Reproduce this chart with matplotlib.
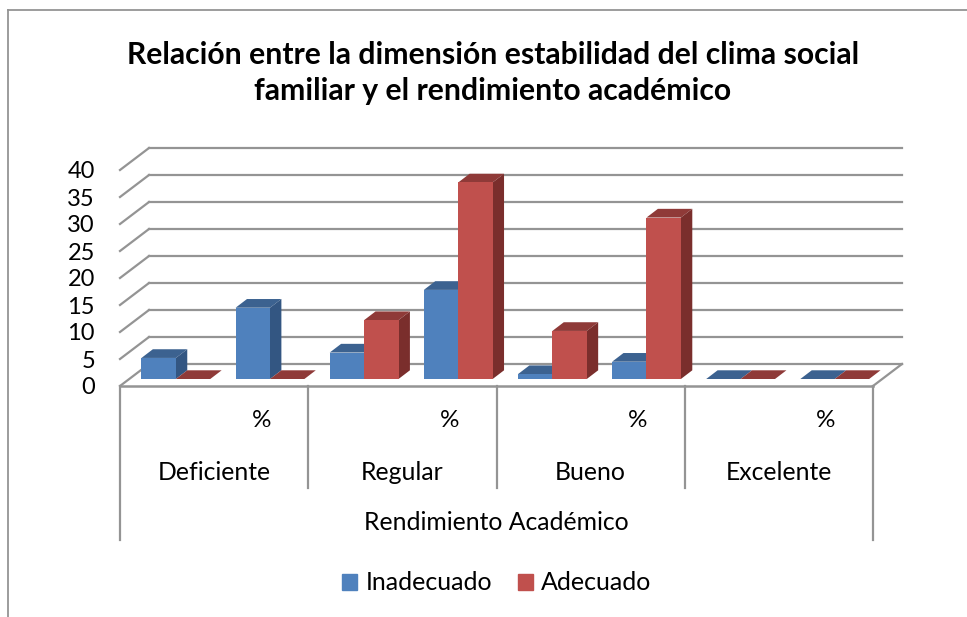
import matplotlib.pyplot as plt
from matplotlib.patches import Patch
from matplotlib.lines import Line2D

plt.rcParams['font.family'] = ['Lato', 'DejaVu Sans']

title = "Relación entre la dimensión estabilidad del clima social\nfamiliar y el rendimiento académico"
groups = ["Deficiente", "Regular", "Bueno", "Excelente"]
outer_label = "Rendimiento Académico"
sub_label = "%"
series_names = ["Inadecuado", "Adecuado"]
inadecuado = [3.9, 13.2, 4.9, 16.5, 0.9, 3.2, 0, 0]
adecuado = [0, 0, 10.9, 36.4, 8.9, 29.9, 0, 0]
yticks = [0, 5, 10, 15, 20, 25, 30, 35, 40]

W, H = 967, 617
L, R, BASE, TOP = 120, 873, 386, 170
# data units per pixel
ux = 8 / (R - L)
uy = 40 / (BASE - TOP)
# depth of the 3d box and of the bars, in data units
wall_dx, wall_dy = 29 * ux, 22 * uy
bar_dx, bar_dy = 11.4 * ux, 8.7 * uy
off_x, off_y = 8.8 * ux, 7 * uy
bar_w = 34.4 * ux

GRID = '#949494'
colors = {'front': ['#4F81BD', '#C0504D'],
          'top': ['#3C6290', '#8F3A38'],
          'side': ['#335682', '#7A2E2C']}

fig = plt.figure(figsize=(W / 100, H / 100), dpi=100)
ax = fig.add_axes([L / W, 1 - BASE / H, (R - L) / W, (BASE - TOP) / H])
ax.set_xlim(0, 8)
ax.set_ylim(0, 40)
ax.patch.set_alpha(0)
for s in ax.spines.values():
	s.set_visible(False)

# walls
for v in yticks:
	ax.plot([0, wall_dx], [v, v + wall_dy], color=GRID, lw=1.6, clip_on=False, zorder=1)
	ax.plot([wall_dx, 8 + wall_dx], [v + wall_dy, v + wall_dy], color=GRID, lw=1.6, clip_on=False, zorder=1)
ax.plot([8, 8 + wall_dx], [0, wall_dy], color=GRID, lw=1.6, clip_on=False, zorder=1)
ax.plot([0, 8], [0, 0], color=GRID, lw=1.8, clip_on=False, zorder=1)

# bars
z = 2
for i in range(8):
	for k, vals in enumerate([inadecuado, adecuado]):
		x0 = i + (1 - 2 * bar_w) / 2 + off_x + k * bar_w
		x1 = x0 + bar_w
		v = vals[i]
		y0, y1 = off_y, off_y + v
		ax.fill([x0, x1, x1 + bar_dx, x0 + bar_dx], [y1, y1, y1 + bar_dy, y1 + bar_dy],
				color=colors['top'][k], lw=0, clip_on=False, zorder=z)
		if v > 0:
			ax.fill([x1, x1 + bar_dx, x1 + bar_dx, x1], [y0, y0 + bar_dy, y1 + bar_dy, y1],
					color=colors['side'][k], lw=0, clip_on=False, zorder=z)
			ax.bar(x0, v, bar_w, bottom=y0, align='edge', color=colors['front'][k], lw=0,
				   clip_on=False, zorder=z + 0.5)
		z += 1

# axis labels
ax.set_yticks(yticks)
ax.set_yticklabels([str(v) for v in yticks], fontsize=17, va='center_baseline')
ax.tick_params(axis='y', length=0, pad=18, colors='black')
ax.set_xticks([1.5, 3.5, 5.5, 7.5])
ax.set_xticklabels([sub_label] * 4, fontsize=17.5)
ax.tick_params(axis='x', length=0, pad=17.5, colors='black')

# multi level category box
for i in range(0, 9, 2):
	low = -(540 - BASE) * uy if i in (0, 8) else -(488 - BASE) * uy
	ax.plot([i, i], [0, low], color=GRID, lw=1.6, clip_on=False, zorder=1)
for i, g in enumerate(groups):
	ax.text(2 * i + 1, -(473 - BASE) * uy, g, ha='center', va='center', fontsize=17.8)
ax.text(4, -(523 - BASE) * uy, outer_label, ha='center', va='center', fontsize=17.8)

fig.text(493 / W, 1 - 73 / H, title, ha='center', va='center', fontsize=21.7, fontweight='bold',
		 linespacing=1.38)

# chart frame
fig.add_artist(Line2D([7.5 / W, 7.5 / W], [0, 1 - 9.5 / H], color=GRID, lw=1.3))
fig.add_artist(Line2D([7.5 / W, 1], [1 - 9.5 / H, 1 - 9.5 / H], color=GRID, lw=1.3))

handles = [Patch(color=colors['front'][0]), Patch(color=colors['front'][1])]
fig.legend(handles, series_names, loc='center', bbox_to_anchor=(497 / W, 1 - 583 / H), ncol=2, frameon=False,
		   fontsize=18, handlelength=0.6, handleheight=0.6, handletextpad=0.32, columnspacing=1.05)

fig.savefig('out.png', dpi=100)
